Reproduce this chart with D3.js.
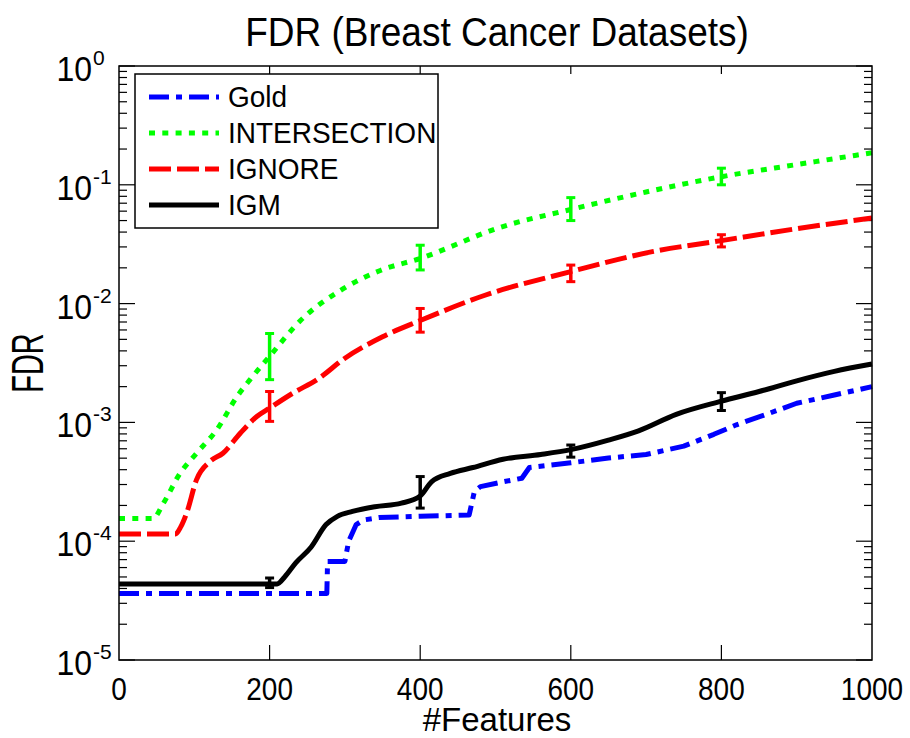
<!DOCTYPE html>
<html>
<head>
<meta charset="utf-8">
<script src="https://cdn.jsdelivr.net/npm/d3@7"></script>
<style>
  body { margin: 0; background: #fff; }
  svg { font-family: "Liberation Sans", Arial, sans-serif; }
</style>
</head>
<body>
<svg id="chart" width="910" height="738"></svg>
<script>
// values (FDR on a log axis)
const featGold = [0, 276, 277, 300, 305, 315, 325, 345, 400, 465, 472, 480, 510, 535, 545, 600, 650, 700, 750, 790, 820, 860, 900, 950, 1000];
const fdrGold = [3.63e-5, 3.63e-5, 6.76e-5, 6.76e-5, 1.0e-4, 1.38e-4, 1.51e-4, 1.58e-4, 1.62e-4, 1.66e-4, 2.63e-4, 2.88e-4, 3.16e-4, 3.39e-4, 4.17e-4, 4.57e-4, 5.01e-4, 5.37e-4, 6.31e-4, 7.94e-4, 9.55e-4, 1.17e-3, 1.45e-3, 1.70e-3, 2.0e-3];

const featInter = [0, 45, 59, 81, 103, 130, 157, 174, 200, 241, 294, 347, 400, 507, 600, 700, 800, 900, 1000];
const fdrInter = [1.55e-4, 1.55e-4, 2.09e-4, 3.72e-4, 5.5e-4, 8.7e-4, 1.66e-3, 2.29e-3, 3.6e-3, 7.2e-3, 1.29e-2, 1.9e-2, 2.4e-2, 4.4e-2, 6.2e-2, 8.7e-2, 1.17e-1, 1.48e-1, 1.86e-1];

const featIgnore = [0, 75, 82, 90, 103, 121, 138, 161, 183, 200, 232, 263, 300, 350, 400, 485, 600, 710, 800, 900, 1000];
const fdrIgnore = [1.15e-4, 1.15e-4, 1.32e-4, 1.74e-4, 3.3e-4, 4.7e-4, 5.5e-4, 8.1e-4, 1.12e-3, 1.32e-3, 1.78e-3, 2.29e-3, 3.47e-3, 5.25e-3, 7.2e-3, 1.17e-2, 1.86e-2, 2.75e-2, 3.39e-2, 4.27e-2, 5.25e-2];

const featIgm = [0, 210, 220, 235, 255, 275, 290, 310, 340, 375, 400, 415, 440, 470, 510, 560, 600, 650, 690, 740, 800, 850, 900, 950, 1000];
const fdrIgm = [4.37e-5, 4.37e-5, 5.0e-5, 6.6e-5, 8.9e-5, 1.38e-4, 1.62e-4, 1.78e-4, 1.95e-4, 2.09e-4, 2.4e-4, 3.16e-4, 3.72e-4, 4.17e-4, 4.9e-4, 5.37e-4, 5.9e-4, 7.1e-4, 8.5e-4, 1.17e-3, 1.51e-3, 1.82e-3, 2.24e-3, 2.69e-3, 3.1e-3];

// error bars at every 200 features
const errFeat = [200, 400, 600, 800];
const errInterLo = [2.29e-3, 1.92e-2, 5.0e-2, 1.0e-1];
const errInterHi = [5.6e-3, 3.1e-2, 7.8e-2, 1.38e-1];
const errIgnoreLo = [1.02e-3, 5.75e-3, 1.53e-2, 3.0e-2];
const errIgnoreHi = [1.82e-3, 9.1e-3, 2.11e-2, 3.8e-2];
const errIgmLo = [4.07e-5, 1.9e-4, 5.1e-4, 1.26e-3];
const errIgmHi = [4.9e-5, 3.5e-4, 6.45e-4, 1.78e-3];

const legendNames = ['Gold', 'INTERSECTION', 'IGNORE', 'IGM'];
const xTicks = [0, 200, 400, 600, 800, 1000];
const yExponents = [0, -1, -2, -3, -4, -5];

const svg = d3.select('#chart');
const plot = { left: 119, right: 872, top: 66, bottom: 660 };

const x = d3.scaleLinear().domain([0, 1000]).range([plot.left, plot.right]);
const y = d3.scaleLog().domain([1e-5, 1]).range([plot.bottom, plot.top]);

const series = [
  { name: legendNames[0], feat: featGold, fdr: fdrGold, color: '#0000ff', dash: '20,7,6,7', curve: d3.curveLinear },
  { name: legendNames[1], feat: featInter, fdr: fdrInter, color: '#00ff00', dash: '6,7.3', curve: d3.curveMonotoneX,
    lo: errInterLo, hi: errInterHi },
  { name: legendNames[2], feat: featIgnore, fdr: fdrIgnore, color: '#ff0000', dash: '22,6', curve: d3.curveMonotoneX,
    lo: errIgnoreLo, hi: errIgnoreHi },
  { name: legendNames[3], feat: featIgm, fdr: fdrIgm, color: '#000000', dash: null, curve: d3.curveMonotoneX,
    lo: errIgmLo, hi: errIgmHi },
];

// ticks on the log axis: majors at decades, minors at 2..9
const yTickVals = [];
yExponents.forEach(e => {
  yTickVals.push({ v: Math.pow(10, e), major: true });
  if (e > -5) {
    for (let m = 2; m < 10; m++) yTickVals.push({ v: m * Math.pow(10, e - 1), major: false });
  }
});

const axes = svg.append('g');

axes.selectAll('line.ytick-left')
  .data(yTickVals)
  .enter()
  .append('line')
  .attr('class', 'ytick-left')
  .attr('x1', plot.left)
  .attr('x2', d => plot.left + (d.major ? 16 : 8))
  .attr('y1', d => y(d.v))
  .attr('y2', d => y(d.v))
  .attr('stroke', '#000')
  .attr('stroke-width', 1.2);

axes.selectAll('line.ytick-right')
  .data(yTickVals)
  .enter()
  .append('line')
  .attr('class', 'ytick-right')
  .attr('x1', plot.right)
  .attr('x2', d => plot.right - (d.major ? 16 : 8))
  .attr('y1', d => y(d.v))
  .attr('y2', d => y(d.v))
  .attr('stroke', '#000')
  .attr('stroke-width', 1.2);

// x ticks, inside the box, bottom and top
const innerX = xTicks.slice(1, -1);
axes.selectAll('line.xtick-bottom')
  .data(innerX)
  .enter()
  .append('line')
  .attr('x1', d => x(d))
  .attr('x2', d => x(d))
  .attr('y1', plot.bottom)
  .attr('y2', plot.bottom - 15)
  .attr('stroke', '#000')
  .attr('stroke-width', 1.2);

axes.selectAll('line.xtick-top')
  .data(innerX)
  .enter()
  .append('line')
  .attr('x1', d => x(d))
  .attr('x2', d => x(d))
  .attr('y1', plot.top)
  .attr('y2', plot.top + 8)
  .attr('stroke', '#000')
  .attr('stroke-width', 1.2);

// tick labels (MATLAB glyphs look a little taller than Liberation Sans)
axes.selectAll('text.xlabel')
  .data(xTicks)
  .enter()
  .append('text')
  .attr('transform', d => `translate(${x(d)},700) scale(1,1.15)`)
  .attr('text-anchor', 'middle')
  .attr('font-size', 28)
  .text(d => d);

const yLab = axes.selectAll('g.ylabel')
  .data(yExponents)
  .enter()
  .append('g')
  .attr('transform', d => `translate(0,${y(Math.pow(10, d))})`);

yLab.append('text')
  .attr('transform', 'translate(92,15) scale(1,1.1)')
  .attr('text-anchor', 'end')
  .attr('font-size', 32)
  .text('10');

yLab.append('text')
  .attr('x', 93)
  .attr('y', -1)
  .attr('font-size', 21)
  .text(d => d === 0 ? '0' : '-' + Math.abs(d));

// data lines
const lines = svg.append('g');
series.forEach(s => {
  const pts = s.feat.map((f, i) => [f, s.fdr[i]]);
  const line = d3.line()
    .x(d => x(d[0]))
    .y(d => y(d[1]))
    .curve(s.curve);
  lines.append('path')
    .datum(pts)
    .attr('d', line)
    .attr('fill', 'none')
    .attr('stroke', s.color)
    .attr('stroke-width', 5)
    .attr('stroke-dasharray', s.dash)
    .attr('stroke-linejoin', 'round');

  if (!s.lo) return;
  const bars = lines.append('g')
    .selectAll('g')
    .data(errFeat.map((f, i) => ({ f: f, lo: s.lo[i], hi: s.hi[i] })))
    .enter()
    .append('g');
  bars.append('line')
    .attr('x1', d => x(d.f))
    .attr('x2', d => x(d.f))
    .attr('y1', d => y(d.lo))
    .attr('y2', d => y(d.hi))
    .attr('stroke', s.color)
    .attr('stroke-width', 3.5);
  ['lo', 'hi'].forEach(k => {
    bars.append('line')
      .attr('x1', d => x(d.f) - 4.5)
      .attr('x2', d => x(d.f) + 4.5)
      .attr('y1', d => y(d[k]))
      .attr('y2', d => y(d[k]))
      .attr('stroke', s.color)
      .attr('stroke-width', 3);
  });
});

// frame on top
svg.append('rect')
  .attr('x', plot.left)
  .attr('y', plot.top)
  .attr('width', plot.right - plot.left)
  .attr('height', plot.bottom - plot.top)
  .attr('fill', 'none')
  .attr('stroke', '#000')
  .attr('stroke-width', 1.5);

// legend
const legend = svg.append('g');
legend.append('rect')
  .attr('x', 135)
  .attr('y', 74)
  .attr('width', 303)
  .attr('height', 154)
  .attr('fill', '#fff')
  .attr('stroke', '#000')
  .attr('stroke-width', 1.5);

const rows = legend.selectAll('g.row')
  .data(series)
  .enter()
  .append('g')
  .attr('transform', (d, i) => `translate(0,${97 + i * 36})`);

rows.append('line')
  .attr('x1', 149)
  .attr('x2', 219)
  .attr('y1', 0)
  .attr('y2', 0)
  .attr('stroke', d => d.color)
  .attr('stroke-width', 5)
  .attr('stroke-dasharray', d => d.dash);

rows.append('text')
  .attr('transform', 'translate(228,10) scale(1,1.08)')
  .attr('font-size', 28)
  .text(d => d.name);

// titles
svg.append('text')
  .attr('transform', 'translate(497,46) scale(1,1.08)')
  .attr('text-anchor', 'middle')
  .attr('font-size', 37)
  .text('FDR (Breast Cancer Datasets)');

svg.append('text')
  .attr('x', 497)
  .attr('y', 731)
  .attr('text-anchor', 'middle')
  .attr('font-size', 33)
  .text('#Features');

svg.append('text')
  .attr('transform', 'translate(43,363) rotate(-90) scale(0.85,1.3)')
  .attr('text-anchor', 'middle')
  .attr('font-size', 34)
  .text('FDR');
</script>
</body>
</html>
